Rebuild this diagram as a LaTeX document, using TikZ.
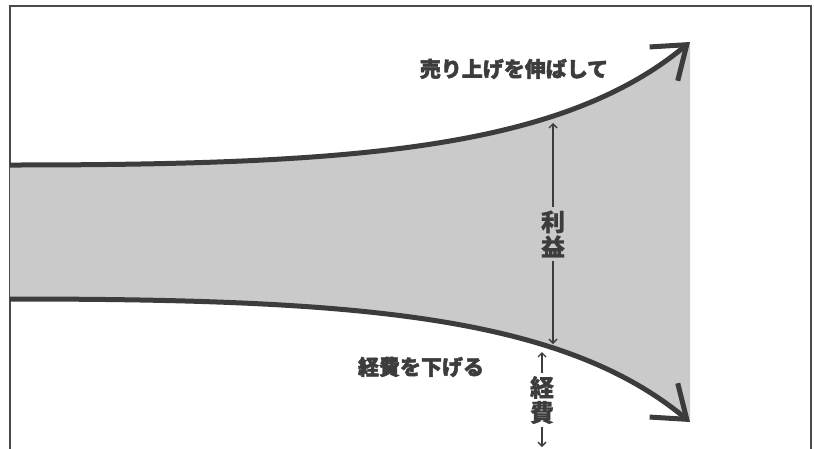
\documentclass[tikz,border=0pt]{standalone}
\usepackage{fontspec}
\newfontfamily\jpfont{Noto Sans CJK JP}[BoldFeatures={FakeBold=2}]
\newfontfamily\jpmid{Noto Sans CJK JP}[BoldFeatures={FakeBold=0.6}]
\usetikzlibrary{
    arrows.meta,
}
\definecolor{inkgray}{HTML}{3C3C3C}
\definecolor{fillgray}{HTML}{CACACA}
\definecolor{framegray}{HTML}{4A4A4A}
\tikzset{
  trend/.style={line width=5pt, draw=inkgray, line join=miter,
    -{Straight Barb[length=30pt,width=44pt]}},
  bigtext/.style={font=\jpfont\bfseries\fontsize{21}{24}\selectfont, text=inkgray, inner sep=0pt},
  vtext/.style={font=\jpmid\bfseries\fontsize{24}{25}\selectfont, text=inkgray, align=center, inner sep=3pt},
  span/.style={line width=1.4pt, draw=inkgray, -{Straight Barb[length=4pt,width=8pt]}},
}
\begin{document}
\begin{tikzpicture}[x=1pt, y=-1pt]
  \useasboundingbox (0,0) rectangle (814,448);
  \fill[white] (0,0) rectangle (814,448);

  \draw[framegray, line width=1.5pt] (10,470) -- (10,6) -- (811,6) -- (811,470);

  \coordinate (hi-start) at (10,165);
  \coordinate (hi-end)   at (690,42);
  \coordinate (lo-start) at (10,299);
  \coordinate (lo-end)   at (690,422);

  \fill[fillgray] (hi-start) .. controls (350,165) and (560,150) .. (hi-end)
        -- (lo-end) .. controls (560,314) and (350,299) .. (lo-start) -- cycle;
  \draw[trend] (hi-start) .. controls (350,165) and (560,150) .. (hi-end);
  \draw[trend] (lo-start) .. controls (350,299) and (560,314) .. (lo-end);

  \node[bigtext] (sales) at (514,69)  {売り上げを伸ばして};
  \node[bigtext] (cut)   at (421,367) {経費を下げる};

  \node[vtext] (profit) at (553,234) {利\\益};
  \coordinate (profit-top) at (553,123);
  \coordinate (profit-bot) at (553,344);
  \draw[span] (profit.north) -- (profit-top);
  \draw[span] (profit.south) -- (profit-bot);

  \node[vtext] (cost) at (542,400) {経\\費};
  \coordinate (cost-top) at (542,352);
  \coordinate (cost-bot) at (542,447);
  \draw[span] (cost.north) -- (cost-top);
  \draw[span] (cost.south) -- (cost-bot);
\end{tikzpicture}
\end{document}
